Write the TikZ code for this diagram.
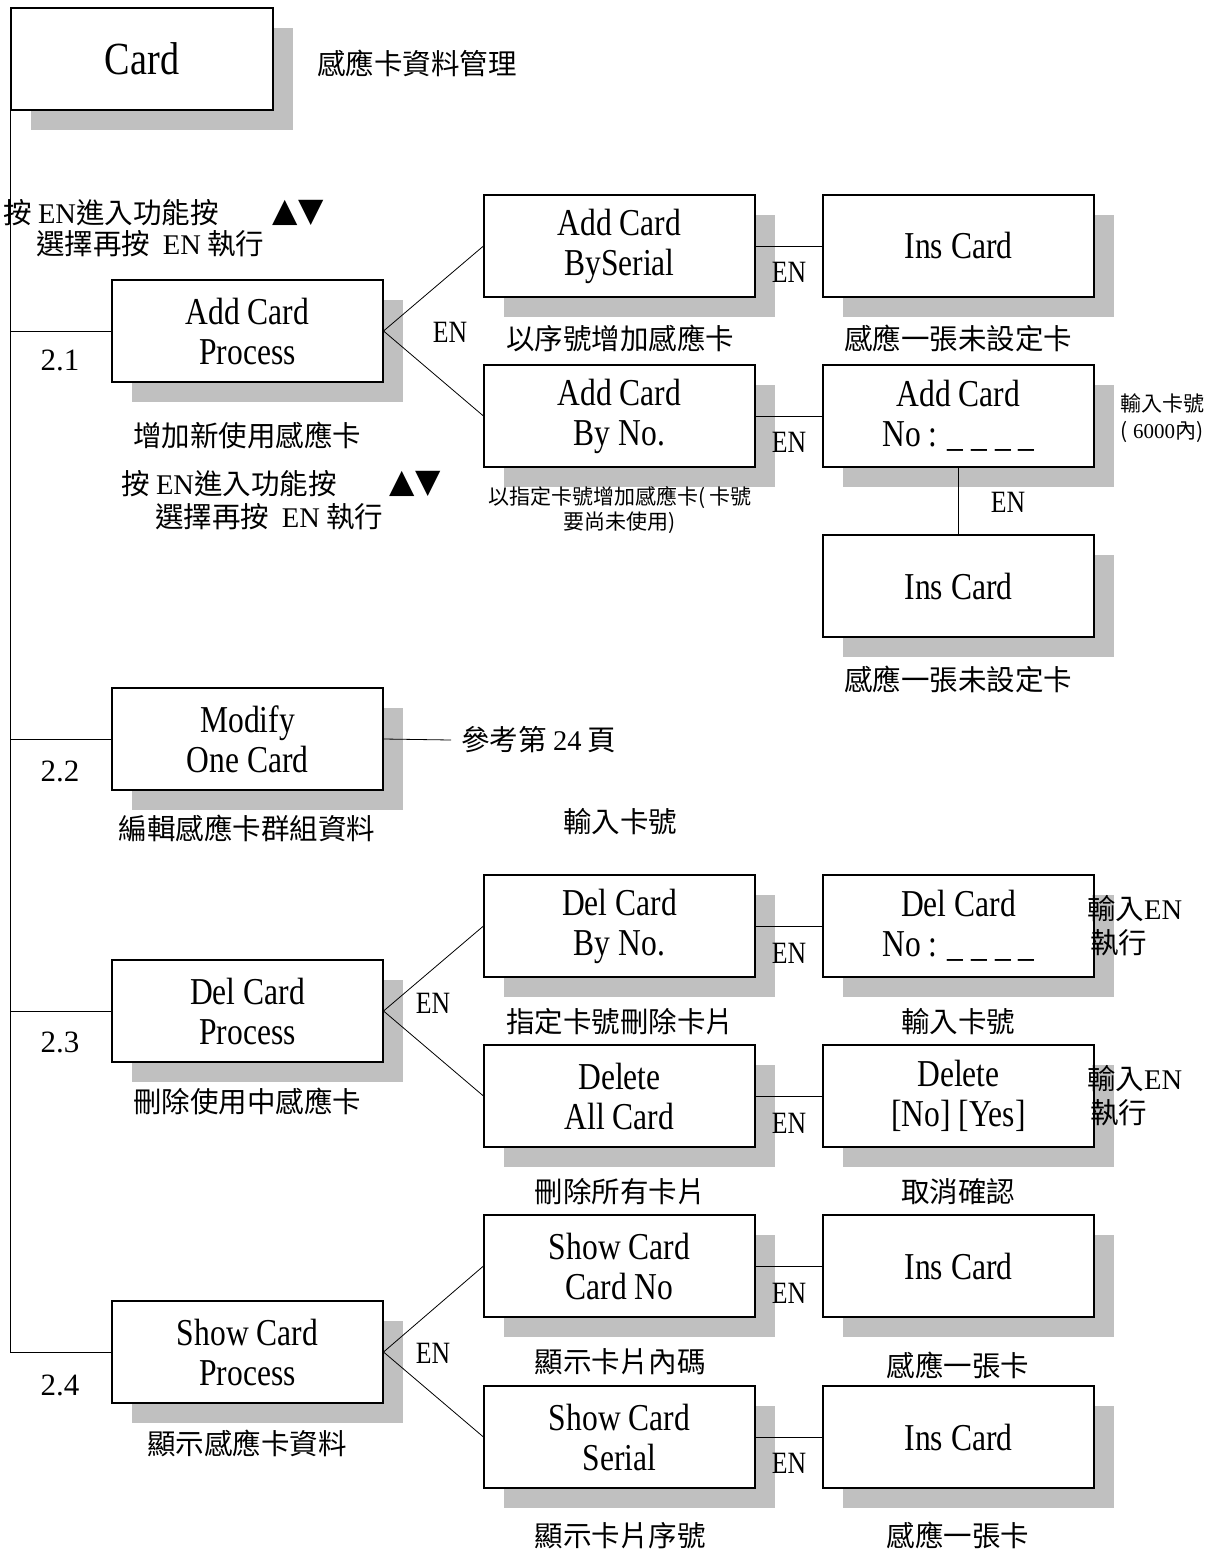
\documentclass[tikz,border=0pt]{standalone}
\usepackage{fontspec}
\setmainfont{Liberation Serif}
\newfontfamily\narrow{Liberation Serif}[FakeStretch=0.83]
\newfontfamily\cjk{Noto Sans CJK TC}
\newfontfamily\symfont{DejaVu Sans}
\usetikzlibrary{shadows}
\definecolor{shadowgray}{RGB}{192,192,192}
\newcommand\lat[1]{{\rmfamily #1}}
\begin{document}
\begin{tikzpicture}[x=1pt,y=-1pt,
  mbox/.style={draw, line width=1.1pt, fill=white, minimum width=271pt, minimum height=102pt,
    inner sep=0pt, align=center, font=\narrow\fontsize{38}{40}\selectfont,
    general shadow={fill=shadowgray, shadow xshift=20pt, shadow yshift=-20pt}},
  captxt/.style={inner sep=0pt, font=\cjk\fontsize{28.5}{30}\selectfont},
  smallcap/.style={inner sep=0pt, font=\cjk\fontsize{21}{24}\selectfont},
  entxt/.style={inner sep=0pt, font=\narrow\fontsize{31}{31}\selectfont},
  numtxt/.style={inner sep=0pt, font=\fontsize{31}{31}\selectfont},
  tritxt/.style={inner sep=0pt, font=\symfont\fontsize{33}{33}\selectfont},
  conn/.style={line width=0.8pt}]
\useasboundingbox (0,0) rectangle (1227,1555);

% top box
\node[mbox, minimum width=262pt, font=\narrow\fontsize{46}{46}\selectfont] (card) at (142,59) {Card};
\node[captxt, anchor=west] (title) at (317,63) {感應卡資料管理};

\node[captxt, anchor=west] (in1a) at (3,213) {按 \lat{EN}進入功能按};
\node[tritxt] (tr1) at (298,213) {▲▼};
\node[captxt, anchor=west] (in1b) at (36,244) {選擇再按\ \ \lat{EN} 執行};

% 2.1
\node[mbox] (p1) at (247.5,331) {Add Card\\Process};
\node[numtxt] (n1) at (60,360) {2.1};
\node[entxt] (en1) at (450,332) {EN};
\node[captxt] (cp1) at (247,435) {增加新使用感應卡};
\node[captxt, anchor=west] (in2a) at (121,484) {按 \lat{EN}進入功能按};
\node[tritxt] (tr2) at (415,484) {▲▼};
\node[captxt, anchor=west] (in2b) at (155,517) {選擇再按\ \ \lat{EN} 執行};

\node[mbox] (a1) at (619.5,246) {Add Card\\BySerial};
\node[mbox] (c1) at (958.5,246) {Ins Card};
\node[entxt] (en2) at (789,272) {EN};
\node[captxt] (ca1) at (620,338) {以序號增加感應卡};
\node[captxt] (cc1) at (958,338) {感應一張未設定卡};

\node[mbox] (a2) at (619.5,416) {Add Card\\By No.};
\node[mbox] (c2) at (958.5,416) {Add Card\\No : \_ \_ \_ \_};
\node[entxt] (en3) at (789,442) {EN};
\node[smallcap] (r1a) at (1162,403) {輸入卡號};
\node[smallcap] (r1b) at (1162,432) {(\lat{ 6000}內)};
\node[smallcap] (ca2a) at (620,498) {以指定卡號增加感應卡( 卡號};
\node[smallcap] (ca2b) at (620,523) {要尚未使用)};
\node[entxt] (en4) at (1008,502) {EN};

\node[mbox] (c3) at (958.5,586) {Ins Card};
\node[captxt] (cc3) at (958,679) {感應一張未設定卡};

% 2.2
\node[mbox] (p2) at (247.5,739) {Modify\\One Card};
\node[numtxt] (n2) at (60,771) {2.2};
\node[captxt, anchor=west, inner xsep=10pt] (ref) at (451,740) {參考第 \lat{24} 頁};
\node[captxt] (cp2) at (247,828) {編輯感應卡群組資料};
\node[captxt] (cq2) at (620,822) {輸入卡號};

% 2.3
\node[mbox] (p3) at (247.5,1011) {Del Card\\Process};
\node[numtxt] (n3) at (60,1042) {2.3};
\node[entxt] (en5) at (433,1003) {EN};
\node[captxt] (cp3) at (247,1101) {刪除使用中感應卡};

\node[mbox] (d1) at (619.5,926) {Del Card\\By No.};
\node[mbox] (e1) at (958.5,926) {Del Card\\No : \_ \_ \_ \_};
\node[entxt] (en6) at (789,953) {EN};
\node[captxt, anchor=west] (r2a) at (1087,909) {輸入\lat{EN}};
\node[captxt, anchor=west] (r2b) at (1090,943) {執行};
\node[captxt] (cd1) at (620,1022) {指定卡號刪除卡片};
\node[captxt] (ce1) at (958,1022) {輸入卡號};

\node[mbox] (d2) at (619.5,1096) {Delete\\All Card};
\node[mbox] (e2) at (958.5,1096) {Delete\\{[No] [Yes]}};
\node[entxt] (en7) at (789,1123) {EN};
\node[captxt, anchor=west] (r3a) at (1087,1079) {輸入\lat{EN}};
\node[captxt, anchor=west] (r3b) at (1090,1113) {執行};
\node[captxt] (cd2) at (620,1192) {刪除所有卡片};
\node[captxt] (ce2) at (958,1192) {取消確認};

% 2.4
\node[mbox] (p4) at (247.5,1352) {Show Card\\Process};
\node[numtxt] (n4) at (60,1385) {2.4};
\node[entxt] (en8) at (433,1353) {EN};
\node[captxt] (cp4) at (247,1443) {顯示感應卡資料};

\node[mbox] (s1) at (619.5,1266) {Show Card\\Card No};
\node[mbox] (f1) at (958.5,1266) {Ins Card};
\node[entxt] (en9) at (789,1293) {EN};
\node[captxt] (cs1) at (620,1362) {顯示卡片內碼};
\node[captxt] (cf1) at (958,1365) {感應一張卡};

\node[mbox] (s2) at (619.5,1437) {Show Card\\Serial};
\node[mbox] (f2) at (958.5,1437) {Ins Card};
\node[entxt] (en10) at (789,1463) {EN};
\node[captxt] (cs2) at (620,1536) {顯示卡片序號};
\node[captxt] (cf2) at (958,1535) {感應一張卡};

% connectors
\draw[conn] (card.south west) |- (p4.west);
\draw[conn] (p1.west) -- (p1.west -| card.west);
\draw[conn] (p2.west) -- (p2.west -| card.west);
\draw[conn] (p3.west) -- (p3.west -| card.west);

\draw[conn] (p1.east) -- (a1.west);
\draw[conn] (p1.east) -- (a2.west);
\draw[conn] (a1.east) -- (c1.west);
\draw[conn] (a2.east) -- (c2.west);
\draw[conn] (c2.south) -- (c3.north);

\draw[conn] (p2.east) -- (ref.west);

\draw[conn] (p3.east) -- (d1.west);
\draw[conn] (p3.east) -- (d2.west);
\draw[conn] (d1.east) -- (e1.west);
\draw[conn] (d2.east) -- (e2.west);

\draw[conn] (p4.east) -- (s1.west);
\draw[conn] (p4.east) -- (s2.west);
\draw[conn] (s1.east) -- (f1.west);
\draw[conn] (s2.east) -- (f2.west);
\end{tikzpicture}
\end{document}
